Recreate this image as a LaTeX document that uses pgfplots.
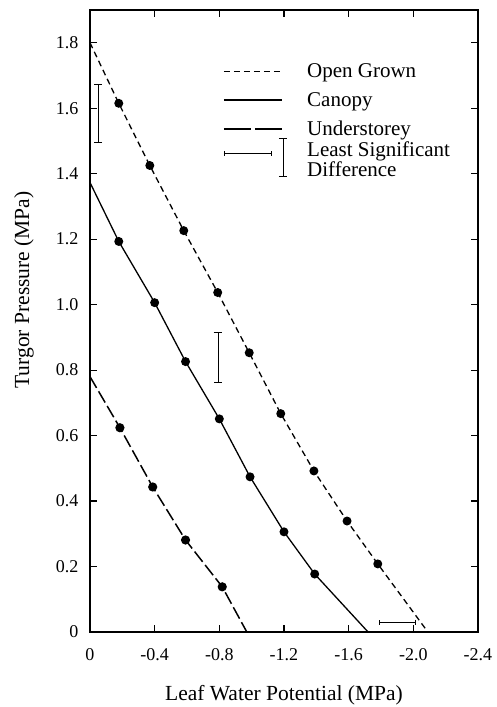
\documentclass[border=0pt]{standalone}
\usepackage{fontspec}
\setmainfont{Liberation Serif}
\usepackage{pgfplots}
\pgfplotsset{compat=1.18}

\newcommand{\ticksize}{\fontsize{18pt}{20pt}\selectfont}
\newcommand{\labsize}{\fontsize{21.5pt}{24pt}\selectfont}
\newcommand{\legsize}{\fontsize{21pt}{18pt}\selectfont}

\pgfplotsset{
  longline/.style={legend image code/.code={\draw[##1] (0pt,0pt) -- (58pt,0pt);}},
  lsdimage/.style={legend image code/.code={
    \draw[black, line width=0.8pt] (0pt,5pt) -- (47pt,5pt);
    \draw[black, line width=0.8pt] (0pt,2.5pt) -- (0pt,7.5pt);
    \draw[black, line width=0.8pt] (47pt,2.5pt) -- (47pt,7.5pt);
    \draw[black, line width=0.8pt, overlay] (59pt,20pt) -- (59pt,-18pt);
    \draw[black, line width=0.8pt, overlay] (55pt,20pt) -- (63pt,20pt);
    \draw[black, line width=0.8pt, overlay] (55pt,-18pt) -- (63pt,-18pt);
    \path (63pt,-7.5pt) (63pt,7.5pt);}},
}

\begin{document}
\begin{tikzpicture}
\useasboundingbox (-90pt,-75pt) rectangle (406pt,632pt);
\begin{axis}[
  at={(0pt,0pt)}, anchor=south west,
  scale only axis, width=388pt, height=622pt,
  x dir=reverse, xmin=-2.4, xmax=0, ymin=0, ymax=1.9,
  axis line style={line width=1.4pt},
  tick align=inside, tick pos=both, major tick length=7pt,
  tick style={black, line width=1.2pt},
  xtick={0,-0.4,-0.8,-1.2,-1.6,-2.0,-2.4},
  xticklabels={0,-0.4,-0.8,-1.2,-1.6,-2.0,-2.4},
  ytick={0,0.2,0.4,0.6,0.8,1.0,1.2,1.4,1.6,1.8},
  yticklabels={0,0.2,0.4,0.6,0.8,1.0,1.2,1.4,1.6,1.8},
  /pgf/number format/assume math mode=true,
  tick label style={font=\ticksize},
  xticklabel style={anchor=center, yshift=-23pt},
  yticklabel style={anchor=east, xshift=-8pt},
  xlabel={Leaf Water Potential (MPa)},
  ylabel={Turgor Pressure (MPa)},
  label style={font=\labsize},
  xlabel style={at={(axis description cs:0.5,-0.1013)}, anchor=center},
  ylabel style={at={(axis description cs:-0.170,0.55)}, anchor=center},
  legend style={draw=none, fill=none, at={(0.335,0.92)}, anchor=north west,
    font=\legsize, row sep=9pt, nodes={inner sep=2pt},
    /tikz/every odd column/.append style={column sep=18pt}},
  legend cell align=left,
]
% legend samples
\addlegendimage{black, line width=1.3pt, dash pattern=on 6pt off 4pt, longline}
\addlegendentry{Open Grown}
\addlegendimage{black, line width=1.3pt, longline}
\addlegendentry{Canopy}
\addlegendimage{black, line width=1.6pt, dash pattern=on 27pt off 4pt, longline}
\addlegendentry{Understorey}
\addlegendimage{lsdimage}
\addlegendentry{\raisebox{8pt}[15pt][5pt]{\def\arraystretch{0.9}\begin{tabular}[t]{@{}l@{}}Least Significant\\Difference\end{tabular}}}

% Open Grown
\addplot[black, line width=1.3pt, dash pattern=on 6pt off 4pt,
  mark=*, mark size=3.8pt, mark indices={2,3,4,5,6,7,8,9,10},
  mark options={solid}, forget plot] coordinates {
  (0,1.800) (-0.178,1.615) (-0.37,1.425) (-0.58,1.226) (-0.79,1.037)
  (-0.985,0.853) (-1.18,0.667) (-1.385,0.492) (-1.59,0.339) (-1.78,0.208)
  (-2.09,0.0)};
% Canopy
\addplot[black, line width=1.3pt,
  mark=*, mark size=3.8pt, mark indices={2,3,4,5,6,7,8},
  forget plot] coordinates {
  (0,1.373) (-0.178,1.193) (-0.40,1.006) (-0.591,0.826) (-0.80,0.651)
  (-0.99,0.474) (-1.20,0.306) (-1.39,0.177) (-1.72,0.0)};
% Understorey
\addplot[black, line width=1.5pt, dash pattern=on 13pt off 4pt,
  mark=*, mark size=3.8pt, mark indices={2,3,4,5},
  mark options={solid}, forget plot] coordinates {
  (0,0.780) (-0.185,0.624) (-0.388,0.443) (-0.591,0.281) (-0.818,0.138)
  (-0.97,0.0)};

% least significant differences
\addplot[black, line width=0.8pt, mark=none, forget plot,
  error bars/.cd, y dir=both, y explicit,
  error mark options={black, line width=0.8pt, mark size=4pt, rotate=90}]
  coordinates {(-0.05,1.584) +- (0,0.089)};
\addplot[black, line width=0.8pt, mark=none, forget plot,
  error bars/.cd, y dir=both, y explicit,
  error mark options={black, line width=0.8pt, mark size=4pt, rotate=90}]
  coordinates {(-0.79,0.8375) +- (0,0.0765)};
\addplot[black, line width=0.8pt, mark=none, forget plot,
  error bars/.cd, x dir=both, x explicit,
  error mark options={black, line width=0.8pt, mark size=2.5pt, rotate=90}]
  coordinates {(-1.90,0.03) +- (0.11,0)};
\end{axis}
\end{tikzpicture}
\end{document}
